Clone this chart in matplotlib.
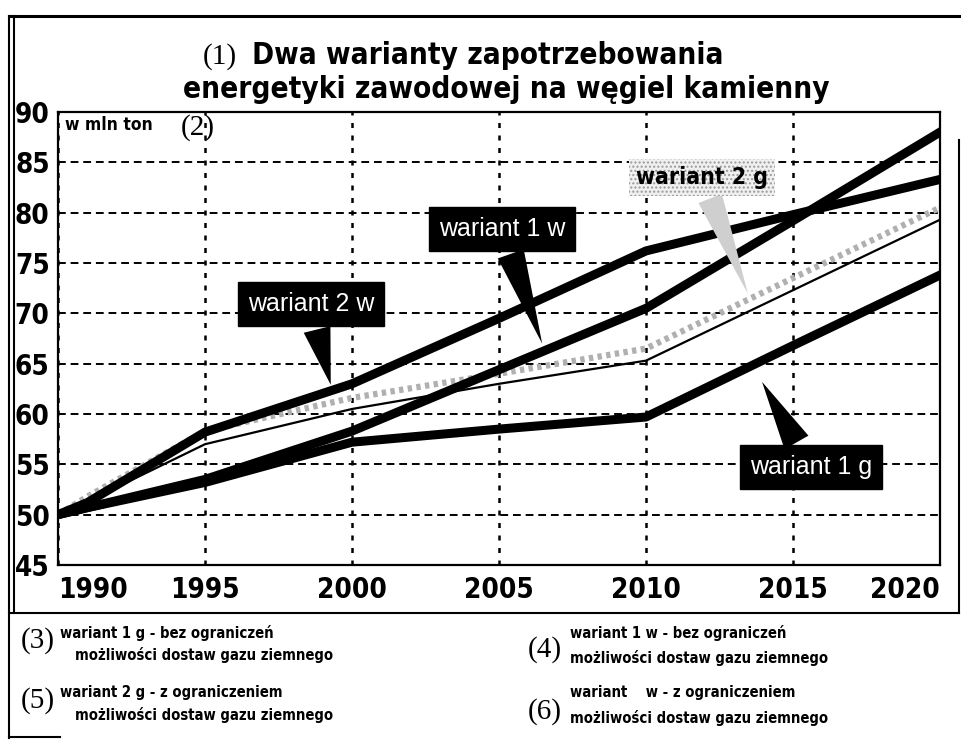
import matplotlib
matplotlib.use("Agg")
import matplotlib.pyplot as plt
import numpy as np
from matplotlib import font_manager
from matplotlib.font_manager import FontProperties
from matplotlib.lines import Line2D

# data (mln ton)
years = [1990, 1991, 1995, 2000, 2005, 2010, 2015, 2020]
wariant_1w = [50.0, 50.7, 53.5, 58.3, 64.4, 70.5, 79.2, 88.0]
wariant_2w = [50.0, 51.2, 58.2, 63.0, 69.5, 76.2, 79.8, 83.3]
wariant_2g = [50.0, 51.3, 57.0, 60.5, 63.0, 65.3, 72.3, 79.3]
wariant_2g_cien = [50.0, 51.8, 58.3, 61.6, 64.0, 66.5, 73.5, 80.5]
wariant_1g = [50.0, 50.7, 53.2, 57.2, 58.5, 59.7, 66.8, 73.8]

x_ticks = [1990, 1995, 2000, 2005, 2010, 2015, 2020]
y_ticks = [45, 50, 55, 60, 65, 70, 75, 80, 85, 90]


def pick(names):
    for n in names:
        try:
            font_manager.findfont(FontProperties(family=n), fallback_to_default=False)
            return n
        except ValueError:
            pass
    return "DejaVu Sans"


SANS = pick(["Liberation Sans", "Roboto"])
SERIF = pick(["Liberation Serif", "DejaVu Serif"])

# look for a bold condensed sans face (scan uses Helvetica Condensed Bold)
COND_FILE = None
for f in font_manager.fontManager.ttflist:
    nm = f.name.lower()
    if "serif" in nm or "mono" in nm:
        continue
    condensed = ("narrow" in nm or "condensed" in nm or
                 str(f.stretch) in ("condensed", "semi-condensed", "extra-condensed"))
    w = f.weight if isinstance(f.weight, int) else (700 if "bold" in str(f.weight) else 400)
    if condensed and w >= 700 and "italic" not in str(f.style) and "oblique" not in str(f.style):
        COND_FILE = f.fname
        break


def cond(size):
    if COND_FILE:
        return FontProperties(fname=COND_FILE, size=size)
    return FontProperties(family=SANS, weight="bold", size=size)


W, H = 962, 740
fig = plt.figure(figsize=(W / 100, H / 100), dpi=100)
ax = fig.add_axes([58 / W, 1 - 565 / H, (940 - 58) / W, (565 - 112) / H])


def px(x, y):
    return x / W, 1 - y / H


# lines
ax.plot(years, wariant_2g_cien, color="#b0b0b0", lw=4.5, ls=(0, (0.7, 0.7)), zorder=2)
ax.plot(years, wariant_2g, color="black", lw=1.6, zorder=3)
ax.plot(years, wariant_1g, color="black", lw=6.5, zorder=4)
ax.plot(years, wariant_2w, color="black", lw=6.5, zorder=4)
ax.plot(years, wariant_1w, color="black", lw=6.5, zorder=4)

ax.set_xlim(1990, 2020)
ax.set_ylim(45, 90)
ax.set_xticks(x_ticks)
ax.set_yticks(y_ticks)
ax.yaxis.grid(True, color="black", lw=1.4, ls=(0, (4, 2.5)))
ax.xaxis.grid(True, color="black", lw=1.8, ls=(0, (2, 3)))
ax.set_axisbelow(True)
for s in ax.spines.values():
    s.set_linewidth(1.6)
ax.tick_params(length=0)
ax.tick_params(axis="y", pad=6)
ax.tick_params(axis="x", pad=8)
for lab in ax.get_xticklabels() + ax.get_yticklabels():
    lab.set_fontproperties(cond(20))
ax.get_xticklabels()[0].set_ha("left")
ax.get_xticklabels()[-1].set_ha("right")

ax.text(0.008, 0.992, "w mln ton", transform=ax.transAxes, ha="left", va="top",
        fontproperties=cond(12.5))
ax.text(0.159, 0.965, "(2)", transform=ax.transAxes, ha="center", va="center",
        fontsize=21, family=SERIF)


def callout(text, series, year, dy, box, fc="black", color="white", fp=None, hatch=None):
    tip = (year, np.interp(year, years, series) + dy)
    if fp is None:
        fp = FontProperties(family=SANS, size=18)
    bb = dict(boxstyle="square,pad=0.4", fc=fc, ec=fc)
    if hatch:
        bb.update(hatch=hatch, ec="#9a9a9a", lw=0, boxstyle="square,pad=0.3")
    ax.annotate(text, xy=tip, xytext=box, textcoords="data", ha="center", va="center",
                color=color, fontproperties=fp, zorder=6, bbox=bb,
                arrowprops=dict(arrowstyle="wedge,tail_width=1.1,shrink_factor=0.5",
                                fc=fc if not hatch else "#cfcfcf", ec="none"))


callout("wariant 1 w", wariant_1w, 2006.5, 0.5, (2005.1, 78.4))
callout("wariant 2 w", wariant_2w, 1999.3, 0.3, (1998.6, 70.9))
callout("wariant 1 g", wariant_1g, 2013.9, -1.8, (2015.6, 54.7))
callout("wariant 2 g", wariant_2g_cien, 2013.5, 0.3, (2011.9, 83.5), fc="#f0f0f0",
        color="black", fp=cond(16.5), hatch="....")

# title
fig.text(*px(220, 57), "(1)", ha="center", va="center", fontsize=21, family=SERIF)
fig.text(*px(488, 55), "Dwa warianty zapotrzebowania", ha="center", va="center",
         fontproperties=cond(21.3))
fig.text(*px(506, 90), "energetyki zawodowej na węgiel kamienny", ha="center",
         va="center", fontproperties=cond(21.3))

# legend notes under the chart
notes = [
    ((38, 641), "(3)", (60, 633), "wariant 1 g - bez ograniczeń", (75, 655)),
    ((545, 650), "(4)", (570, 633), "wariant 1 w - bez ograniczeń", (570, 658)),
    ((38, 701), "(5)", (60, 693), "wariant 2 g - z ograniczeniem", (75, 715)),
    ((545, 712), "(6)", (570, 693), "wariant    w - z ograniczeniem", (570, 718)),
]
for num_xy, num, l1_xy, l1, l2_xy in notes:
    fig.text(*px(*num_xy), num, ha="center", va="center", fontsize=21, family=SERIF)
    fig.text(*px(*l1_xy), l1, ha="left", va="center", fontproperties=cond(10.6))
    fig.text(*px(*l2_xy), "możliwości dostaw gazu ziemnego", ha="left", va="center",
             fontproperties=cond(10.6))

# scanned frame
frame = [
    ((9, 962), (16, 16), 2.2),
    ((9, 9), (16, 738), 1.5),
    ((14, 14), (16, 613), 1.5),
    ((9, 959), (613, 613), 1.5),
    ((959, 959), (140, 613), 1.5),
    ((9, 60), (737, 737), 1.5),
]
for xs, ys, lw in frame:
    fig.add_artist(Line2D([x / W for x in xs], [1 - y / H for y in ys], color="black",
                          lw=lw, transform=fig.transFigure))

fig.savefig("out.png", dpi=100)
